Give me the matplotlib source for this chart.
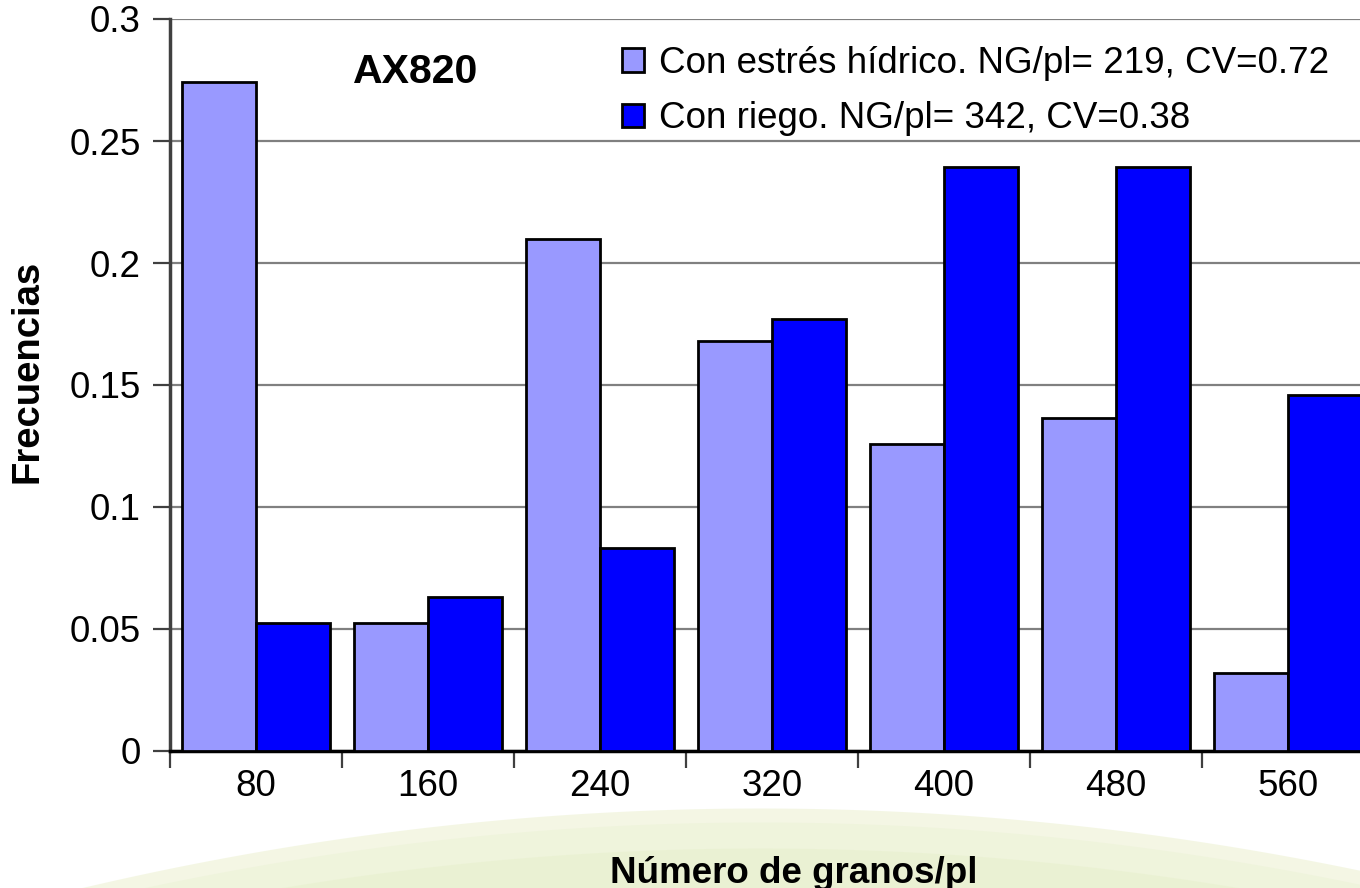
import numpy as np
import matplotlib
matplotlib.use("Agg")
import matplotlib.pyplot as plt
from matplotlib.patches import Patch

plt.rcParams['font.family'] = ['Liberation Sans', 'DejaVu Sans']

categorias = ['80', '160', '240', '320', '400', '480', '560']
estres = [0.274, 0.0525, 0.210, 0.168, 0.126, 0.1365, 0.032]
riego = [0.0525, 0.063, 0.083, 0.177, 0.2395, 0.2395, 0.146]
etiqueta_estres = 'Con estrés hídrico. NG/pl= 219, CV=0.72'
etiqueta_riego = 'Con riego. NG/pl= 342, CV=0.38'
color_estres = '#9999ff'
color_riego = '#0000ff'

fig = plt.figure(figsize=(13.6, 8.88), dpi=100)

# pale decorative arc along the bottom
bg = fig.add_axes([0, 0, 1, 1], zorder=-1)
bg.set_xlim(0, 1360)
bg.set_ylim(888, 0)
bg.axis('off')
xs = np.linspace(80, 1360, 300)
arco = 808 + 80 * ((xs - 760) / 680) ** 2
for desp, col, a in [(0, '#f3f6e2', 0.9), (14, '#eef4da', 0.8),
                     (40, '#e9f1d0', 0.7)]:
    bg.fill_between(xs, arco + desp, 888, color=col, alpha=a, lw=0)

ax = fig.add_axes([170 / 1360, 1 - 751 / 888, 1204 / 1360, 732 / 888])
ax.set_facecolor('none')

x = np.arange(len(categorias))
w = 0.43
ax.bar(x - w / 2, estres, width=w, color=color_estres, edgecolor='black',
       linewidth=2, zorder=3, label=etiqueta_estres)
ax.bar(x + w / 2, riego, width=w, color=color_riego, edgecolor='black',
       linewidth=2, zorder=3, label=etiqueta_riego)

ax.set_xlim(-0.5, len(categorias) - 0.5)
ax.set_ylim(0, 0.3)

yt = np.arange(0, 0.31, 0.05)
ax.set_yticks(yt)
ax.set_yticklabels(['0', '0.05', '0.1', '0.15', '0.2', '0.25', '0.3'])
ax.yaxis.grid(True, color='#808080', linewidth=1.6, zorder=0)
ax.set_axisbelow(True)

ax.set_xticks(x)
ax.set_xticklabels(categorias)
ax.set_xticks(np.arange(-0.5, len(categorias)), minor=True)
ax.tick_params(axis='x', which='major', length=0, pad=13, labelsize=26.5)
ax.tick_params(axis='x', which='minor', length=12, width=1.6, color='#404040',
               direction='out')
ax.tick_params(axis='y', length=12, width=1.6, color='#404040', pad=9,
               labelsize=26.5)

for s in ['top', 'right']:
    ax.spines[s].set_visible(False)
ax.spines['left'].set_color('#404040')
ax.spines['left'].set_linewidth(2.5)
ax.spines['bottom'].set_color('black')
ax.spines['bottom'].set_linewidth(2.5)

fig.text(28 / 1360, 1 - 371 / 888, 'Frecuencias', fontsize=27.5,
         fontweight='bold', rotation=90, ha='center', va='center')
fig.text(794 / 1360, 1 - 873 / 888, 'Número de granos/pl', fontsize=26.5,
         fontweight='bold', ha='center', va='center')
fig.text(353 / 1360, 1 - 72 / 888, 'AX820', fontsize=29.5, fontweight='bold',
         ha='left', va='center')

handles = [Patch(facecolor=color_estres, edgecolor='black', linewidth=2),
           Patch(facecolor=color_riego, edgecolor='black', linewidth=2)]
fig.legend(handles, [etiqueta_estres, etiqueta_riego], loc='upper left',
           bbox_to_anchor=(622 / 1360, 1 - 46 / 888), frameon=False,
           fontsize=26.5, handlelength=0.6, handleheight=0.6, handletextpad=0.4,
           labelspacing=0.55, borderpad=0, borderaxespad=0)

fig.savefig('out.png', dpi=100)
